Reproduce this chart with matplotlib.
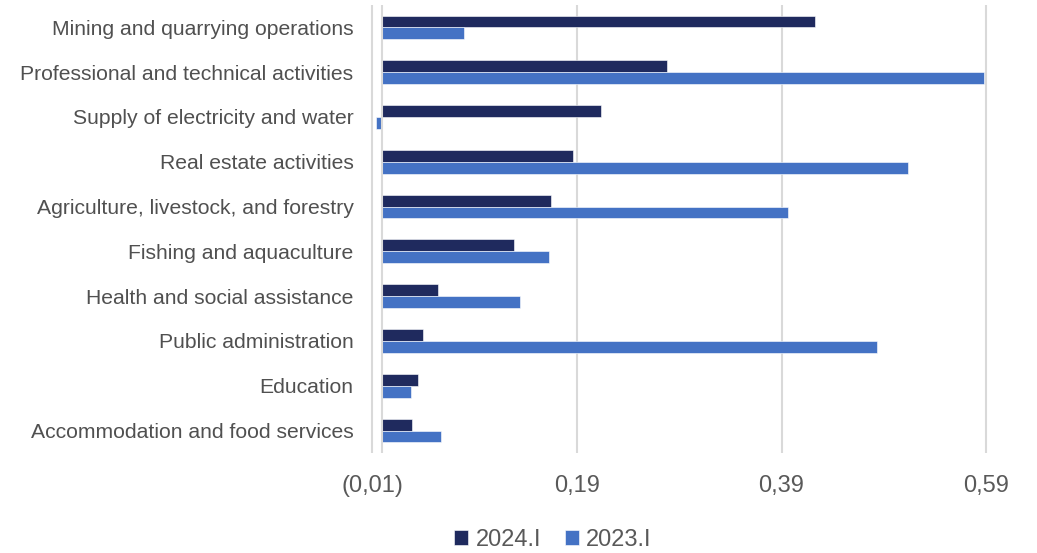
import matplotlib.pyplot as plt
import numpy as np
from matplotlib.ticker import FuncFormatter

plt.rcParams['font.family'] = ['Liberation Sans', 'DejaVu Sans']

categories = [
    'Mining and quarrying operations',
    'Professional and technical activities',
    'Supply of electricity and water',
    'Real estate activities',
    'Agriculture, livestock, and forestry',
    'Fishing and aquaculture',
    'Health and social assistance',
    'Public administration',
    'Education',
    'Accommodation and food services',
]
values_2024 = [0.423, 0.278, 0.214, 0.186, 0.165, 0.129, 0.054, 0.040, 0.035, 0.029]
values_2023 = [0.080, 0.588, -0.006, 0.514, 0.396, 0.163, 0.134, 0.483, 0.028, 0.057]
xticks = [-0.01, 0.19, 0.39, 0.59]

navy = '#1F2A5E'
blue = '#4472C4'

def fmt(v, pos=None):
    s = f'{abs(v):.2f}'.replace('.', ',')
    return f'({s})' if v < 0 else s

fig = plt.figure(figsize=(10.37, 5.53), dpi=100)
ax = fig.add_axes([0.357, 0.181, 0.596, 0.81])

y = np.arange(len(categories))
h = 0.265
ax.barh(y - h / 2, values_2024, height=h, color=navy, label='2024.I',
        edgecolor='white', linewidth=0.4)
ax.barh(y + h / 2, values_2023, height=h, color=blue, label='2023.I',
        edgecolor='white', linewidth=0.4)

ax.set_ylim(len(categories) - 0.5, -0.5)
ax.set_xlim(-0.012, 0.592)
ax.set_yticks(y)
ax.set_yticklabels(categories, fontsize=15.2, color='#505050')
ax.set_xticks(xticks)
ax.xaxis.set_major_formatter(FuncFormatter(fmt))
ax.tick_params(axis='x', labelsize=17, colors='#595959', length=0, pad=16)
ax.tick_params(axis='y', length=0, pad=12)

ax.grid(axis='x', color='#D9D9D9', linewidth=1.5)
ax.axvline(0, color='#D9D9D9', linewidth=1.5, zorder=1)
ax.set_axisbelow(True)
for sp in ax.spines.values():
    sp.set_visible(False)

leg = fig.legend(loc='center', bbox_to_anchor=(0.533, 0.024), ncol=2, frameon=False,
                 fontsize=17, handlelength=0.6, handleheight=0.6, handletextpad=0.3,
                 columnspacing=1.0, labelcolor='#595959')

fig.savefig('out.png', dpi=100)
